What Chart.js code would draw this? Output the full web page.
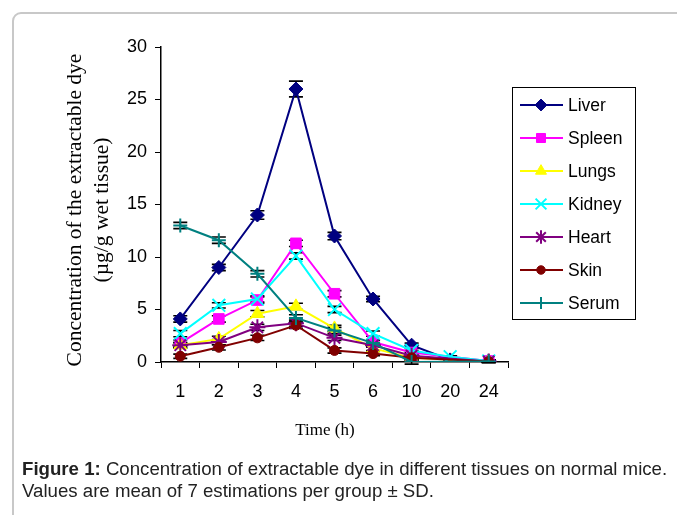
<!DOCTYPE html>
<html>
<head>
<meta charset="utf-8">
<script src="https://cdn.jsdelivr.net/npm/chart.js@4.4.1/dist/chart.umd.min.js"></script>
<style>
  html, body { margin: 0; padding: 0; background: #fff; width: 677px; height: 515px; overflow: hidden; }
  #frame { position: absolute; left: 12px; top: 12px; width: 720px; height: 600px;
           border: 2px solid #c8c8c8; border-top-left-radius: 9px; box-sizing: border-box; }
  #wrap { position: absolute; left: 0; top: 0; width: 677px; height: 515px; }
  #caption { position: absolute; left: 22px; top: 458px; width: 680px; white-space: nowrap;
             font-family: "Liberation Sans", Arial, sans-serif; font-size: 18.65px; line-height: 22px; color: #222; }
</style>
</head>
<body>
<div id="frame"></div>
<div id="wrap"><canvas id="c" width="677" height="515"></canvas></div>
<div id="caption"><b>Figure 1:</b> Concentration of extractable dye in different tissues on normal mice.<br>Values are mean of 7 estimations per group ± SD.</div>
<script>
// ---- data ----
const timeLabels = ['1', '2', '3', '4', '5', '6', '10', '20', '24'];
const seriesNames = ['Liver', 'Spleen', 'Lungs', 'Kidney', 'Heart', 'Skin', 'Serum'];
const liver  = [4.1, 9.0, 14.0, 26.0, 12.0, 6.0, 1.6, 0.2, 0.1];
const spleen = [1.8, 4.1, 5.9, 11.3, 6.5, 1.9, 0.9, null, 0.1];
const lungs  = [1.6, 2.2, 4.6, 5.3, 3.2, 1.3, 0.4, null, 0.05];
const kidney = [2.7, 5.4, 6.0, 10.1, 5.0, 2.7, 1.1, 0.5, 0.1];
const heart  = [1.6, 1.9, 3.3, 3.7, 2.3, 1.6, 0.6, null, 0.05];
const skin   = [0.55, 1.4, 2.3, 3.5, 1.1, 0.8, 0.4, null, 0.05];
const serum  = [13.0, 11.6, 8.4, 4.2, 3.0, 1.8, 0.0, null, 0.05];
// standard deviations
const liverSD  = [0.3, 0.3, 0.4, 0.75, 0.35, 0.25, 0.2, 0.1, 0.1];
const spleenSD = [0.3, 0.3, 0.3, 0.3, 0.3, 0.25, 0.2, null, 0.1];
const lungsSD  = [0.25, 0.25, 0.3, 0.3, 0.3, 0.2, 0.2, null, 0.1];
const kidneySD = [0.3, 0.25, 0.3, 0.3, 0.3, 0.25, 0.2, 0.1, 0.1];
const heartSD  = [0.25, 0.25, 0.3, 0.3, 0.25, 0.2, 0.2, null, 0.1];
const skinSD   = [0.2, 0.25, 0.25, 0.3, 0.25, 0.2, 0.2, null, 0.1];
const serumSD  = [0.3, 0.3, 0.3, 0.3, 0.3, 0.25, 0.2, null, 0.1];
const yTicks = [0, 5, 10, 15, 20, 25, 30];

const values = [liver, spleen, lungs, kidney, heart, skin, serum];
const sds = [liverSD, spleenSD, lungsSD, kidneySD, heartSD, skinSD, serumSD];
const colors = ['#000080', '#FF00FF', '#FFFF00', '#00FFFF', '#800080', '#800000', '#008080'];
const styles = ['rectRot', 'rect', 'triangle', 'crossRot', 'star', 'circle', 'cross'];
const radii = [7, 7.5, 7.5, 9, 8, 5, 7];
const bw = [1, 1, 1, 2, 2, 1, 2];

const datasets = seriesNames.map((n, i) => ({
  label: n,
  data: values[i],
  sd: sds[i],
  borderColor: colors[i],
  backgroundColor: colors[i],
  pointBackgroundColor: colors[i],
  pointBorderColor: colors[i],
  pointStyle: styles[i],
  pointRadius: radii[i],
  pointBorderWidth: bw[i],
  borderWidth: 2,
  tension: 0,
  spanGaps: true,
  order: seriesNames.length - i
}));

const fontTick = { family: "'Liberation Sans', Arial, sans-serif", size: 18 };

const decor = {
  id: 'decor',
  beforeDatasetsDraw(chart) {
    const ctx = chart.ctx;
    const xs = chart.scales.x, ys = chart.scales.y;
    ctx.save();
    ctx.strokeStyle = '#000';
    ctx.lineWidth = 1.6;
    chart.data.datasets.forEach((ds, di) => {
      ds.data.forEach((v, j) => {
        const s = ds.sd[j];
        if (v == null || s == null) return;
        const x = xs.getPixelForValue(j);
        const y1 = ys.getPixelForValue(v - s);
        const y2 = ys.getPixelForValue(v + s);
        ctx.beginPath();
        ctx.moveTo(x, y1); ctx.lineTo(x, y2);
        ctx.moveTo(x - 7, y1); ctx.lineTo(x + 7, y1);
        ctx.moveTo(x - 7, y2); ctx.lineTo(x + 7, y2);
        ctx.stroke();
      });
    });
    ctx.restore();
  },
  afterDraw(chart) {
    const ctx = chart.ctx;
    ctx.save();
    // y axis title
    ctx.fillStyle = '#000';
    ctx.font = "21.5px 'Liberation Serif', 'Times New Roman', serif";
    ctx.textAlign = 'center';
    ctx.textBaseline = 'middle';
    ctx.translate(0, 210);
    ctx.rotate(-Math.PI / 2);
    ctx.fillText('Concentration of the extractable dye', 0, 75);
    ctx.fillText('(µg/g wet tissue)', 0, 102);
    ctx.restore();
    ctx.save();
    ctx.fillStyle = '#000';
    ctx.font = "17px 'Liberation Serif', 'Times New Roman', serif";
    ctx.textAlign = 'center';
    ctx.textBaseline = 'middle';
    ctx.fillText('Time (h)', 325, 431);
    // legend
    const lx = 512, ly = 87, lw = 123, lh = 232;
    ctx.strokeStyle = '#000';
    ctx.lineWidth = 1;
    ctx.strokeRect(lx + 0.5, ly + 0.5, lw, lh);
    ctx.font = "17.5px 'Liberation Sans', Arial, sans-serif";
    ctx.textAlign = 'left';
    chart.data.datasets.forEach((ds, i) => {
      const y = 105 + i * 33;
      ctx.strokeStyle = ds.borderColor;
      ctx.lineWidth = 2;
      ctx.beginPath();
      ctx.moveTo(520, y); ctx.lineTo(563, y);
      ctx.stroke();
      ctx.fillStyle = ds.pointBackgroundColor;
      ctx.lineWidth = ds.pointBorderWidth;
      if (Chart.helpers && Chart.helpers.drawPoint) {
        Chart.helpers.drawPoint(ctx, { pointStyle: ds.pointStyle, radius: ds.pointRadius * 0.85, rotation: 0, borderWidth: ds.pointBorderWidth }, 541, y);
      }
      ctx.fillStyle = '#000';
      ctx.fillText(ds.label, 568, y + 1);
    });
    ctx.restore();
  }
};

new Chart(document.getElementById('c'), {
  type: 'line',
  data: { labels: timeLabels, datasets },
  options: {
    responsive: false,
    animation: false,
    devicePixelRatio: 1,
    layout: { padding: { left: 121, top: 47, right: 169, bottom: 113 } },
    plugins: { legend: { display: false }, tooltip: { enabled: false } },
    scales: {
      x: {
        type: 'category',
        offset: true,
        grid: { offset: true, drawOnChartArea: false, drawTicks: true, tickLength: 6, color: '#000', lineWidth: 1 },
        border: { color: '#000', width: 1.5 },
        ticks: { font: fontTick, color: '#000', padding: 13, maxRotation: 0, autoSkip: false },
        afterFit(s) { s.height = 40; }
      },
      y: {
        min: 0, max: 30,
        afterBuildTicks(s) { s.ticks = yTicks.map(v => ({ value: v })); },
        grid: { drawOnChartArea: false, drawTicks: true, tickLength: 6, color: '#000', lineWidth: 1 },
        border: { color: '#000', width: 1.5 },
        ticks: { font: fontTick, color: '#000', padding: 8 },
        afterFit(s) { s.width = 40; }
      }
    }
  },
  plugins: [decor]
});
</script>
</body>
</html>
